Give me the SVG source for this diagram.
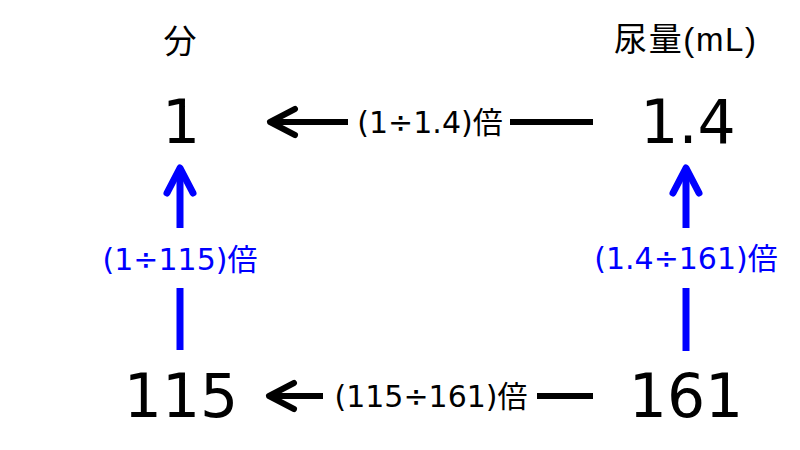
<svg xmlns="http://www.w3.org/2000/svg" width="800" height="450" viewBox="0 0 800 450">
<style>
.hd{font-family:"Liberation Sans","Noto Sans CJK JP",sans-serif;font-size:33px;fill:#000;text-anchor:middle}
.num{font-family:"DejaVu Sans",sans-serif;font-size:60px;fill:#000;text-anchor:middle}
.lbl{font-family:"DejaVu Sans","Noto Sans CJK JP",sans-serif;font-size:30px;text-anchor:middle}
.k{fill:#000}
.b{fill:#0000ff}
.lk{stroke:#000;stroke-width:6;fill:none;stroke-linecap:butt}
.lb{stroke:#0000ff;stroke-width:7;fill:none;stroke-linecap:butt}
.hk{stroke:#000;stroke-width:6;fill:none;stroke-linecap:round;stroke-linejoin:round}
.hb{stroke:#0000ff;stroke-width:7;fill:none;stroke-linecap:round;stroke-linejoin:round}
</style>
<rect width="800" height="450" fill="#fff"/>
<g id="header-min"><text class="hd" x="180" y="53">分</text></g>
<g id="header-ml"><text class="hd" x="685" y="51" textLength="142" lengthAdjust="spacing">尿量(mL)</text></g>
<g id="node-1"><text class="num" x="181" y="143">1</text></g>
<g id="node-1-4"><text class="num" x="688" y="143">1.4</text></g>
<g id="node-115"><text class="num" x="181" y="417">115</text></g>
<g id="node-161"><text class="num" x="686" y="417">161</text></g>
<g id="connectors">
  <g id="top-arrow">
    <line class="lk" x1="593" y1="122" x2="510" y2="122"/>
    <line class="lk" x1="348" y1="122" x2="272" y2="122"/>
    <polyline class="hk" points="295,109 270,122 295,135"/>
    <text class="lbl k" x="430" y="133">(1÷1.4)倍</text>
  </g>
  <g id="bottom-arrow">
    <line class="lk" x1="593" y1="396" x2="537" y2="396"/>
    <line class="lk" x1="323" y1="396" x2="271" y2="396"/>
    <polyline class="hk" points="294,383 269,396 294,409"/>
    <text class="lbl k" x="431" y="407">(115÷161)倍</text>
  </g>
  <g id="left-arrow">
    <line class="lb" x1="180" y1="350" x2="180" y2="288"/>
    <line class="lb" x1="180" y1="228" x2="180" y2="170"/>
    <polyline class="hb" points="167,193 180,168 193,193"/>
    <text class="lbl b" x="180" y="270">(1÷115)倍</text>
  </g>
  <g id="right-arrow">
    <line class="lb" x1="686" y1="351" x2="686" y2="288"/>
    <line class="lb" x1="686" y1="228" x2="686" y2="170"/>
    <polyline class="hb" points="673,193 686,168 699,193"/>
    <text class="lbl b" x="686" y="269">(1.4÷161)倍</text>
  </g>
</g>
</svg>
